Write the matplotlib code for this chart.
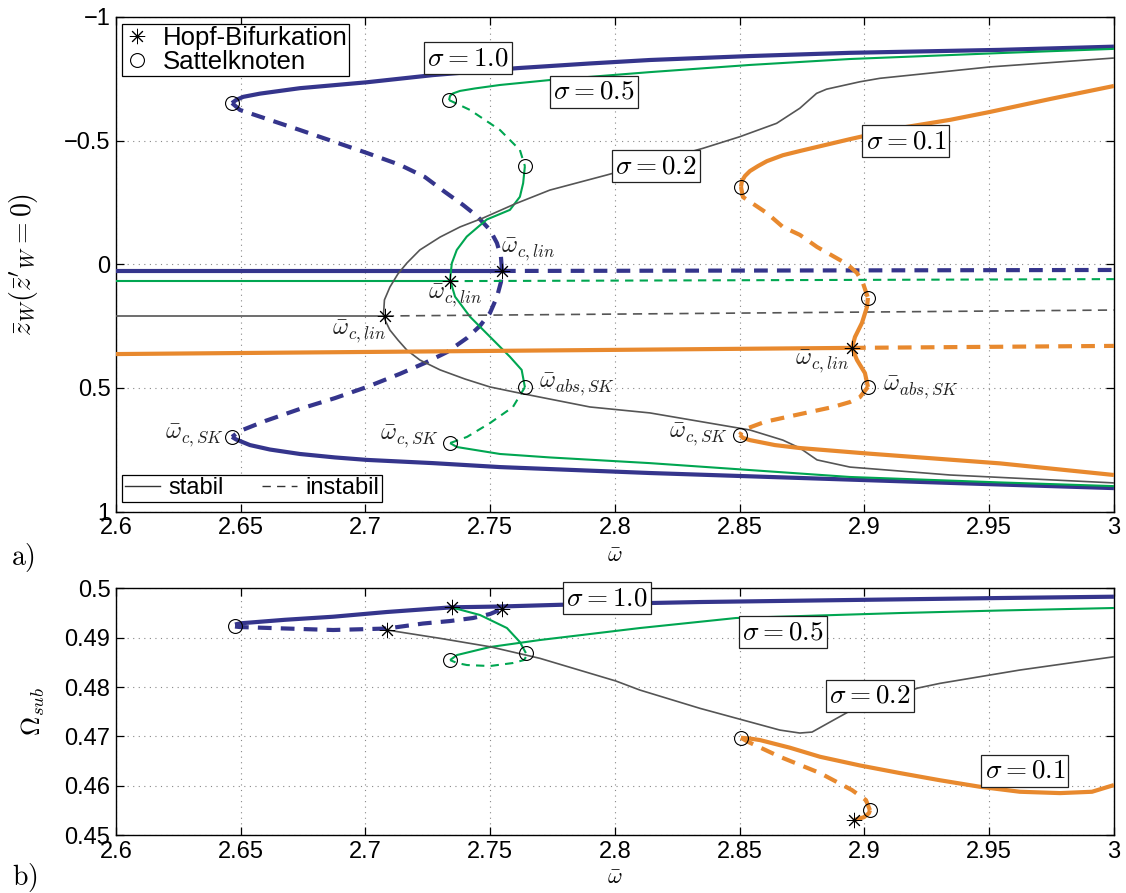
import matplotlib
matplotlib.use('Agg')
import matplotlib.pyplot as plt
from matplotlib.lines import Line2D

plt.rcParams['font.family'] = ['Liberation Sans', 'DejaVu Sans']
plt.rcParams['mathtext.fontset'] = 'cm'

NAVY = '#35358c'
GREEN = '#00a651'
GRAY = '#555555'
ORANGE = '#e8892e'

# ---------------- a) Amplitude z_W ueber omega ----------------
# sigma = 1.0
s10_lin_x = [2.6, 2.7547, 3.0]
s10_lin_z = [0.027, 0.027, 0.023]
s10_up_x = [2.6465, 2.6481, 2.6510, 2.6577, 2.6737, 2.7006, 2.7271, 2.7607, 2.7900, 2.8140,
            2.8541, 2.8942, 2.9543, 3.0]
s10_up_z = [-0.652, -0.664, -0.677, -0.690, -0.712, -0.736, -0.765, -0.793, -0.812, -0.826,
            -0.842, -0.855, -0.867, -0.880]
s10_mid_x = [2.6465, 2.6497, 2.6737, 2.7006, 2.7138, 2.7238, 2.7319, 2.7391, 2.7447, 2.7499,
             2.7527, 2.7543, 2.7547, 2.7543, 2.7527, 2.7499, 2.7459, 2.7407, 2.7327, 2.7238,
             2.7138, 2.7006, 2.6878, 2.6737, 2.6597, 2.6497, 2.6465]
s10_mid_z = [-0.652, -0.624, -0.543, -0.450, -0.402, -0.353, -0.292, -0.240, -0.195, -0.139,
             -0.086, -0.030, 0.023, 0.072, 0.132, 0.197, 0.249, 0.298, 0.355, 0.399,
             0.443, 0.496, 0.541, 0.585, 0.634, 0.674, 0.698]
s10_lo_x = [2.6465, 2.6481, 2.6537, 2.6617, 2.6737, 2.6878, 2.7006, 2.7271, 2.7539, 2.8140, 2.8741, 2.9343, 3.0]
s10_lo_z = [0.698, 0.708, 0.731, 0.749, 0.767, 0.781, 0.791, 0.804, 0.820, 0.844, 0.864, 0.884, 0.905]

# sigma = 0.5
s05_lin_x = [2.6, 2.7339, 3.0]
s05_lin_z = [0.068, 0.068, 0.060]
s05_up_x = [2.7335, 2.7339, 2.7351, 2.7379, 2.7439, 2.7539, 2.7739, 2.8140, 2.8541, 2.8942, 2.9543, 3.0]
s05_up_z = [-0.664, -0.681, -0.691, -0.701, -0.711, -0.725, -0.745, -0.777, -0.806, -0.830, -0.854, -0.871]
s05_d1_x = [2.7335, 2.7419, 2.7539, 2.7619, 2.7639]
s05_d1_z = [-0.664, -0.624, -0.543, -0.462, -0.397]
s05_s_x = [2.7639, 2.7632, 2.7619, 2.7579, 2.7486, 2.7406, 2.7366, 2.7346, 2.7339, 2.7359,
           2.7419, 2.7499, 2.7579, 2.7626, 2.7639]
s05_s_z = [-0.397, -0.328, -0.273, -0.220, -0.181, -0.112, -0.058, -0.004, 0.063, 0.131,
           0.212, 0.293, 0.374, 0.427, 0.497]
s05_d2_x = [2.7639, 2.7591, 2.7499, 2.7407, 2.7339]
s05_d2_z = [0.497, 0.577, 0.642, 0.698, 0.723]
s05_lo_x = [2.7339, 2.7367, 2.7539, 2.7739, 2.8140, 2.8541, 2.8942, 2.9543, 3.0]
s05_lo_z = [0.723, 0.739, 0.767, 0.781, 0.804, 0.832, 0.860, 0.882, 0.897]

# sigma = 0.2
s02_lin_x = [2.6, 2.7078, 3.0]
s02_lin_z = [0.209, 0.209, 0.185]
s02_up_x = [2.7072, 2.7076, 2.7098, 2.7130, 2.7166, 2.7218, 2.7299, 2.7379, 2.7471, 2.7599,
            2.7739, 2.7967, 2.8353, 2.8501, 2.8648, 2.8741, 2.8808, 2.8848, 2.8982, 2.9062,
            2.9503, 3.0]
s02_up_z = [0.209, 0.144, 0.092, 0.039, -0.005, -0.058, -0.110, -0.151, -0.187, -0.244,
            -0.300, -0.361, -0.469, -0.516, -0.570, -0.631, -0.691, -0.708, -0.738, -0.752,
            -0.798, -0.834]
s02_lo_x = [2.7072, 2.7082, 2.7098, 2.7130, 2.7166, 2.7218, 2.7299, 2.7399, 2.7499, 2.7599,
            2.7699, 2.7900, 2.8140, 2.8541, 2.8673, 2.8741, 2.8810, 2.8942, 2.9343, 3.0]
s02_lo_z = [0.209, 0.233, 0.266, 0.306, 0.347, 0.387, 0.427, 0.464, 0.496, 0.517,
            0.537, 0.577, 0.601, 0.670, 0.711, 0.743, 0.791, 0.820, 0.852, 0.884]

# sigma = 0.1
s01_lin_x = [2.6, 2.8950, 3.0]
s01_lin_z = [0.363, 0.338, 0.330]
s01_up_x = [2.8505, 2.8509, 2.8521, 2.8541, 2.8573, 2.8609, 2.8673, 2.8741, 2.8942, 2.9142,
            2.9343, 2.9503, 2.9743, 3.0]
s01_up_z = [-0.313, -0.337, -0.357, -0.377, -0.397, -0.417, -0.441, -0.458, -0.506, -0.551,
            -0.584, -0.616, -0.668, -0.721]
s01_d1_x = [2.8505, 2.8513, 2.8609, 2.8673, 2.8741, 2.8810, 2.8930, 2.8970, 2.8994, 2.9014]
s01_d1_z = [-0.313, -0.272, -0.207, -0.151, -0.119, -0.070, -0.001, 0.035, 0.076, 0.136]
s01_s_x = [2.9014, 2.9010, 2.8990, 2.8962, 2.8950, 2.8970, 2.9002, 2.9014]
s01_s_z = [0.136, 0.173, 0.237, 0.294, 0.338, 0.387, 0.440, 0.496]
s01_d2_x = [2.9014, 2.8982, 2.8942, 2.8874, 2.8709, 2.8601, 2.8513, 2.8501]
s01_d2_z = [0.496, 0.537, 0.557, 0.577, 0.613, 0.637, 0.670, 0.690]
s01_lo_x = [2.8501, 2.8513, 2.8541, 2.8641, 2.8741, 2.9010, 2.9543, 3.0]
s01_lo_z = [0.690, 0.702, 0.711, 0.731, 0.743, 0.765, 0.805, 0.852]

# Verzweigungspunkte
hopf_a_x = [2.7547, 2.7339, 2.7078, 2.8950]
hopf_a_z = [0.027, 0.068, 0.209, 0.338]
sk_a_x = [2.6465, 2.6465, 2.7335, 2.7639, 2.7639, 2.7339, 2.8505, 2.9014, 2.9014, 2.8501]
sk_a_z = [-0.652, 0.698, -0.664, -0.397, 0.497, 0.723, -0.313, 0.136, 0.496, 0.690]

# ---------------- b) Omega_sub ueber omega ----------------
b10_st_x = [2.6477, 2.6497, 2.6677, 2.6870, 2.7086, 2.7347, 2.7539, 2.7780, 2.8341, 2.8942, 2.9543, 3.0]
b10_st_y = [0.49266, 0.49290, 0.49362, 0.49424, 0.49520, 0.49615, 0.49631, 0.49666, 0.49722, 0.49763, 0.49803, 0.49830]
b10_in_x = [2.6477, 2.6497, 2.6870, 2.7086, 2.7230, 2.7339, 2.7431, 2.7499, 2.7547]
b10_in_y = [0.49226, 0.49215, 0.49155, 0.49185, 0.49286, 0.49337, 0.49398, 0.49479, 0.49580]

b05_st1_x = [2.7347, 2.7459, 2.7567, 2.7619, 2.7643]
b05_st1_y = [0.49611, 0.49459, 0.49195, 0.48911, 0.48688]
b05_in_x = [2.7643, 2.7635, 2.7591, 2.7499, 2.7407, 2.7367, 2.7339]
b05_in_y = [0.48607, 0.48546, 0.48486, 0.48425, 0.48445, 0.48486, 0.48546]
b05_st2_x = [2.7339, 2.7367, 2.7499, 2.7699, 2.8100, 2.8485, 2.9142, 2.9543, 3.0]
b05_st2_y = [0.48546, 0.48648, 0.48810, 0.48952, 0.49195, 0.49398, 0.49499, 0.49550, 0.49601]

b02_st_x = [2.7086, 2.7299, 2.7499, 2.7699, 2.8004, 2.8100, 2.8341, 2.8661, 2.8741, 2.8790,
            2.8862, 2.8934, 2.9214, 2.9303, 2.9623, 3.0]
b02_st_y = [0.49155, 0.48986, 0.48816, 0.48581, 0.48121, 0.47938, 0.47567, 0.47127, 0.47067, 0.47087,
            0.47290, 0.47492, 0.47979, 0.48074, 0.48344, 0.48613]

b01_st1_x = [2.8505, 2.8541, 2.8581, 2.8701, 2.8822, 2.8982, 2.9142, 2.9303, 2.9463, 2.9623,
             2.9784, 2.9912, 3.0]
b01_st1_y = [0.46971, 0.46955, 0.46925, 0.46770, 0.46586, 0.46410, 0.46256, 0.46110, 0.45978, 0.45877,
             0.45850, 0.45877, 0.46013]
b01_in_x = [2.8505, 2.8533, 2.8661, 2.8822, 2.8950, 2.9006, 2.9022]
b01_in_y = [0.46971, 0.46890, 0.46586, 0.46256, 0.45911, 0.45708, 0.45503]
b01_st2_x = [2.9022, 2.9018, 2.8998, 2.8958]
b01_st2_y = [0.45503, 0.45443, 0.45362, 0.45303]

hopf_b_x = [2.7347, 2.7547, 2.7086, 2.8958]
hopf_b_y = [0.49615, 0.49580, 0.49155, 0.45303]
sk_b_x = [2.6477, 2.7339, 2.7643, 2.8505, 2.9022]
sk_b_y = [0.49242, 0.48546, 0.48688, 0.46971, 0.45503]

xticks = [2.6, 2.65, 2.7, 2.75, 2.8, 2.85, 2.9, 2.95, 3.0]
xticklabels = ['2.6', '2.65', '2.7', '2.75', '2.8', '2.85', '2.9', '2.95', '3']
yticks_a = [-1, -0.5, 0, 0.5, 1]
yticklabels_a = ['\u22121', '\u22120.5', '0', '0.5', '1']
yticks_b = [0.45, 0.46, 0.47, 0.48, 0.49, 0.5]
yticklabels_b = ['0.45', '0.46', '0.47', '0.48', '0.49', '0.5']

# Linienstile: (Farbe, Breite, Strichmuster)
THICK = 3.0
STYLE = {
    'navy': (NAVY, THICK, (3.3, 2.2)),
    'orange': (ORANGE, THICK, (3.3, 2.2)),
    'green': (GREEN, 1.5, (4.0, 3.0)),
    'gray': (GRAY, 1.2, (5.5, 3.8)),
}


def stable(ax, x, y, key):
    c, lw, _ = STYLE[key]
    ax.plot(x, y, color=c, lw=lw, solid_capstyle='butt', solid_joinstyle='round', zorder=3)


def unstable(ax, x, y, key):
    c, lw, dash = STYLE[key]
    ax.plot(x, y, color=c, lw=lw, dashes=dash, dash_capstyle='butt', zorder=3)


def setup_axes(ax):
    ax.set_xlim(2.6, 3.0)
    ax.set_xticks(xticks)
    ax.set_xticklabels(xticklabels)
    ax.grid(True, color='#888888', linestyle=(0, (1, 4)), linewidth=0.8)
    ax.tick_params(direction='in', top=True, right=True, length=6, width=0.9,
                   labelsize=17, pad=4)
    for sp in ax.spines.values():
        sp.set_linewidth(1.0)


def sigma_box(ax, x, y, txt):
    ax.text(x, y, txt, ha='center', va='center', fontsize=19.5, zorder=6,
            bbox=dict(boxstyle='square,pad=0.12', fc='white', ec='#222222', lw=0.9))


fig = plt.figure(figsize=(11.26, 8.93), dpi=100)
ax1 = fig.add_axes([0.1030, 0.4271, 0.8863, 0.5539])
ax2 = fig.add_axes([0.1030, 0.0649, 0.8863, 0.2763])

# ---- a) ----
unstable(ax1, s10_lin_x[1:], s10_lin_z[1:], 'navy')
stable(ax1, s10_lin_x[:2], s10_lin_z[:2], 'navy')
stable(ax1, s10_up_x, s10_up_z, 'navy')
unstable(ax1, s10_mid_x, s10_mid_z, 'navy')
stable(ax1, s10_lo_x, s10_lo_z, 'navy')

unstable(ax1, s05_lin_x[1:], s05_lin_z[1:], 'green')
stable(ax1, s05_lin_x[:2], s05_lin_z[:2], 'green')
stable(ax1, s05_up_x, s05_up_z, 'green')
unstable(ax1, s05_d1_x, s05_d1_z, 'green')
stable(ax1, s05_s_x, s05_s_z, 'green')
unstable(ax1, s05_d2_x, s05_d2_z, 'green')
stable(ax1, s05_lo_x, s05_lo_z, 'green')

unstable(ax1, s02_lin_x[1:], s02_lin_z[1:], 'gray')
stable(ax1, s02_lin_x[:2], s02_lin_z[:2], 'gray')
stable(ax1, s02_up_x, s02_up_z, 'gray')
stable(ax1, s02_lo_x, s02_lo_z, 'gray')

unstable(ax1, s01_lin_x[1:], s01_lin_z[1:], 'orange')
stable(ax1, s01_lin_x[:2], s01_lin_z[:2], 'orange')
stable(ax1, s01_up_x, s01_up_z, 'orange')
unstable(ax1, s01_d1_x, s01_d1_z, 'orange')
stable(ax1, s01_s_x, s01_s_z, 'orange')
unstable(ax1, s01_d2_x, s01_d2_z, 'orange')
stable(ax1, s01_lo_x, s01_lo_z, 'orange')

STAR = (8, 2, 0)
ax1.plot(hopf_a_x, hopf_a_z, ls='none', marker=STAR, ms=11, mew=0.7, color='k', zorder=5)
ax1.plot(sk_a_x, sk_a_z, ls='none', marker='o', ms=10, mew=0.8, mfc='none', mec='k', zorder=5)

sigma_box(ax1, 2.7411, -0.834, r'$\sigma = 1.0$')
sigma_box(ax1, 2.7916, -0.697, r'$\sigma = 0.5$')
sigma_box(ax1, 2.8164, -0.397, r'$\sigma = 0.2$')
sigma_box(ax1, 2.9166, -0.498, r'$\sigma = 0.1$')

lin = r'$\bar{\omega}_{c,lin}$'
csk = r'$\bar{\omega}_{c,SK}$'
abssk = r'$\bar{\omega}_{abs,SK}$'
for x, z, t in [(2.7651, -0.058, lin), (2.7359, 0.128, lin), (2.6974, 0.272, lin),
                (2.8830, 0.392, lin), (2.6313, 0.694, csk), (2.7178, 0.698, csk),
                (2.8333, 0.690, csk), (2.7848, 0.488, abssk), (2.9226, 0.500, abssk)]:
    ax1.text(x, z, t, ha='center', va='center', fontsize=17.5, color='#222222', zorder=6)

setup_axes(ax1)
ax1.set_ylim(1, -1)
ax1.set_yticks(yticks_a)
ax1.set_yticklabels(yticklabels_a)
ax1.set_ylabel(r"$\bar{z}_W(\bar{z}'_W = 0)$", fontsize=20)
ax1.yaxis.set_label_coords(-0.076, 0.5)
ax1.set_xlabel(r'$\bar{\omega}$', fontsize=16)
ax1.xaxis.set_label_coords(0.5, -0.07)

leg_pts = [Line2D([], [], ls='none', marker=STAR, ms=11, mew=0.7, color='k'),
           Line2D([], [], ls='none', marker='o', ms=10, mew=0.8, mfc='none', mec='k')]
leg1 = ax1.legend(leg_pts, ['Hopf-Bifurkation', 'Sattelknoten'], loc='upper left',
                  bbox_to_anchor=(0.006, 0.986), borderaxespad=0, fontsize=18.5,
                  fancybox=False, framealpha=1, edgecolor='k', handlelength=1.0,
                  handletextpad=0.5, labelspacing=0.0, borderpad=0.08)
leg1.get_frame().set_linewidth(0.9)
ax1.add_artist(leg1)

leg_ls = [Line2D([], [], color='#333333', lw=1.0),
          Line2D([], [], color='#333333', lw=1.0, dashes=(6, 4.5))]
leg2 = ax1.legend(leg_ls, ['stabil', 'instabil'], loc='lower left', ncol=2,
                  bbox_to_anchor=(0.006, 0.019), borderaxespad=0, fontsize=17,
                  fancybox=False, framealpha=1, edgecolor='k', handlelength=1.5,
                  handletextpad=0.35, columnspacing=1.6, borderpad=0.12)
leg2.get_frame().set_linewidth(0.9)

# ---- b) ----
stable(ax2, b10_st_x, b10_st_y, 'navy')
unstable(ax2, b10_in_x, b10_in_y, 'navy')
stable(ax2, b05_st1_x, b05_st1_y, 'green')
unstable(ax2, b05_in_x, b05_in_y, 'green')
stable(ax2, b05_st2_x, b05_st2_y, 'green')
stable(ax2, b02_st_x, b02_st_y, 'gray')
stable(ax2, b01_st1_x, b01_st1_y, 'orange')
unstable(ax2, b01_in_x, b01_in_y, 'orange')
stable(ax2, b01_st2_x, b01_st2_y, 'orange')

ax2.plot(hopf_b_x, hopf_b_y, ls='none', marker=STAR, ms=11, mew=0.7, color='k', zorder=5)
ax2.plot(sk_b_x, sk_b_y, ls='none', marker='o', ms=10, mew=0.8, mfc='none', mec='k', zorder=5)

sigma_box(ax2, 2.7968, 0.49803, r'$\sigma = 1.0$')
sigma_box(ax2, 2.8673, 0.49114, r'$\sigma = 0.5$')
sigma_box(ax2, 2.9022, 0.47822, r'$\sigma = 0.2$')
sigma_box(ax2, 2.9643, 0.46300, r'$\sigma = 0.1$')

setup_axes(ax2)
ax2.set_ylim(0.45, 0.5)
ax2.set_yticks(yticks_b)
ax2.set_yticklabels(yticklabels_b)
ax2.set_ylabel(r'$\Omega_{sub}$', fontsize=19)
ax2.yaxis.set_label_coords(-0.069, 0.5)
ax2.set_xlabel(r'$\bar{\omega}$', fontsize=16)
ax2.xaxis.set_label_coords(0.5, -0.135)

fig.text(23 / 1126, 1 - 557 / 893, r'$\mathrm{a)}$', ha='center', va='center', fontsize=20)
fig.text(25 / 1126, 1 - 878 / 893, r'$\mathrm{b)}$', ha='center', va='center', fontsize=20)

fig.savefig('out.png', dpi=100)
